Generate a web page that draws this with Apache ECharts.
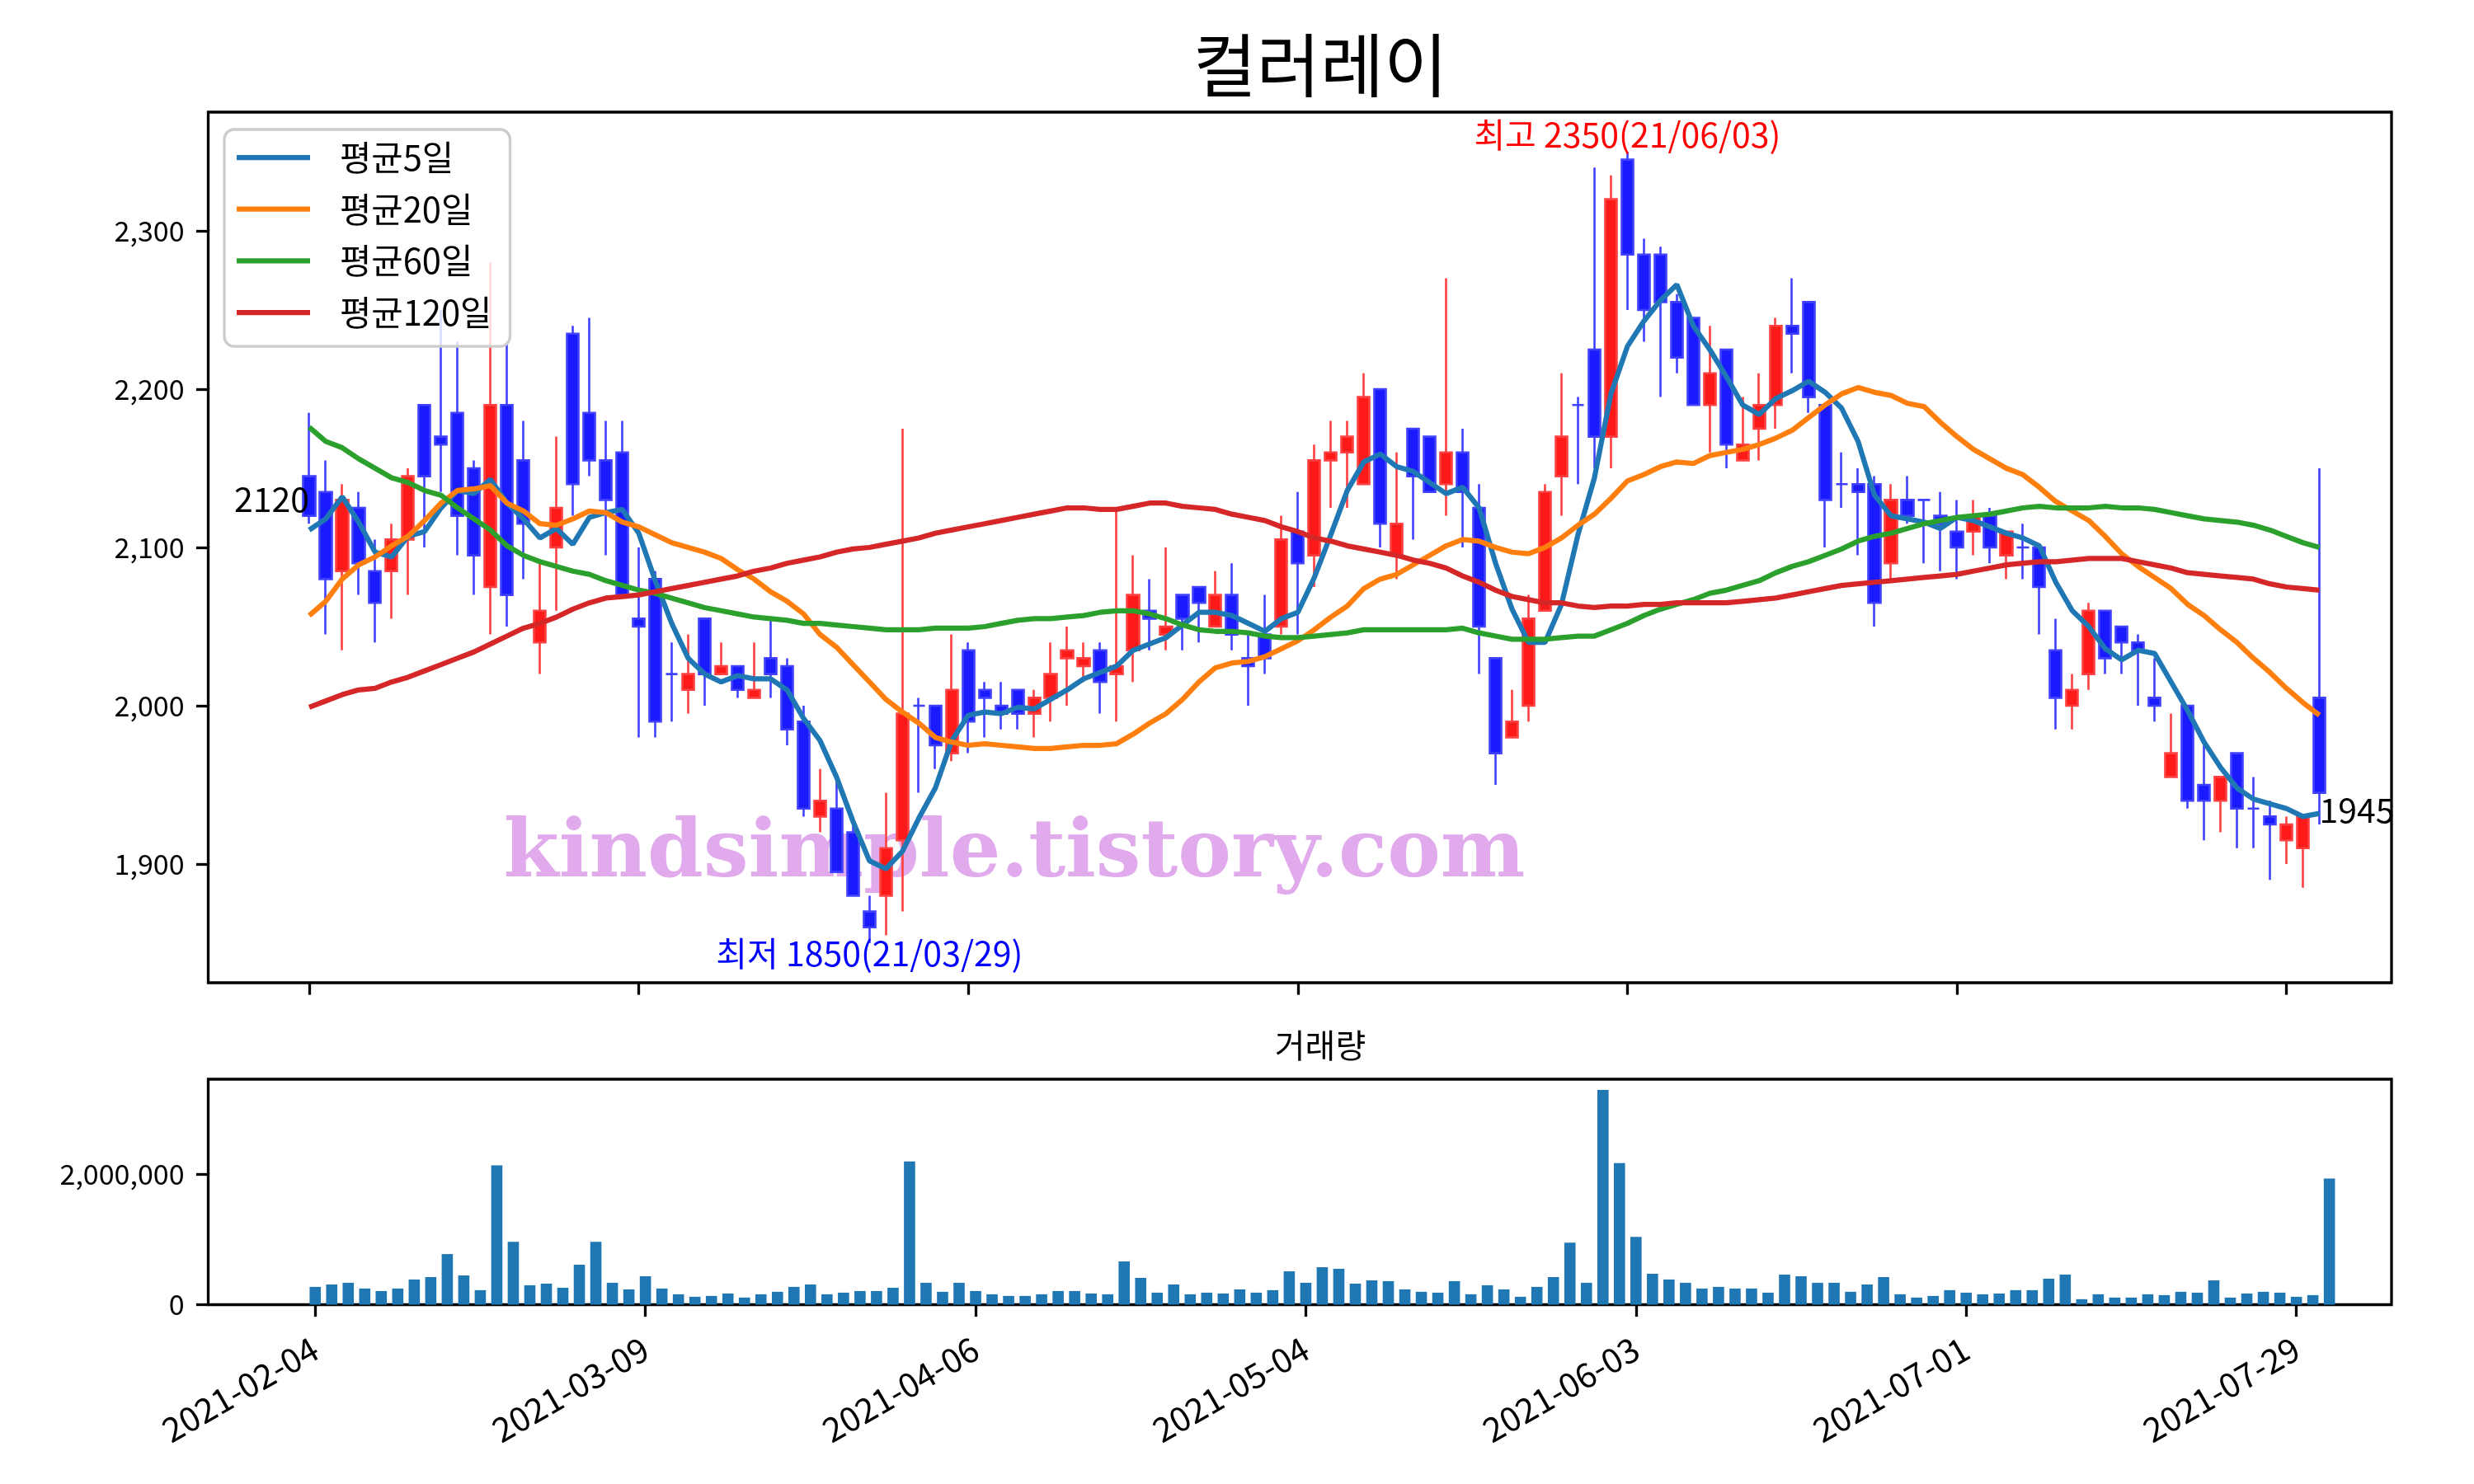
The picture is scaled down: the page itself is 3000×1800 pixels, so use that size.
<!DOCTYPE html>
<html><head><meta charset="utf-8">
<script src="https://cdn.jsdelivr.net/npm/echarts@6/dist/echarts.min.js"></script>
<style>html,body{margin:0;padding:0;background:#fff}#c{width:3000px;height:1800px}</style>
</head><body><div id="c"></div>
<script>
const chartTitle = '컬러레이';
const volumeTitle = '거래량';
const maNames = ['평균5일','평균20일','평균60일','평균120일'];
const dates = ['2021-02-04','2021-02-05','2021-02-08','2021-02-09','2021-02-10','2021-02-15','2021-02-16','2021-02-17','2021-02-18','2021-02-19','2021-02-22','2021-02-23','2021-02-24','2021-02-25','2021-02-26',
'2021-03-02','2021-03-03','2021-03-04','2021-03-05','2021-03-08','2021-03-09','2021-03-10','2021-03-11','2021-03-12','2021-03-15','2021-03-16','2021-03-17','2021-03-18','2021-03-19','2021-03-22','2021-03-23','2021-03-24','2021-03-25','2021-03-26','2021-03-29','2021-03-30','2021-03-31',
'2021-04-01','2021-04-02','2021-04-05','2021-04-06','2021-04-07','2021-04-08','2021-04-09','2021-04-12','2021-04-13','2021-04-14','2021-04-15','2021-04-16','2021-04-19','2021-04-20','2021-04-21','2021-04-22','2021-04-23','2021-04-26','2021-04-27','2021-04-28','2021-04-29','2021-04-30',
'2021-05-03','2021-05-04','2021-05-06','2021-05-07','2021-05-10','2021-05-11','2021-05-12','2021-05-13','2021-05-14','2021-05-17','2021-05-18','2021-05-20','2021-05-21','2021-05-24','2021-05-25','2021-05-26','2021-05-27','2021-05-28','2021-05-31',
'2021-06-01','2021-06-02','2021-06-03','2021-06-04','2021-06-07','2021-06-08','2021-06-09','2021-06-10','2021-06-11','2021-06-14','2021-06-15','2021-06-16','2021-06-17','2021-06-18','2021-06-21','2021-06-22','2021-06-23','2021-06-24','2021-06-25','2021-06-28','2021-06-29','2021-06-30',
'2021-07-01','2021-07-02','2021-07-05','2021-07-06','2021-07-07','2021-07-08','2021-07-09','2021-07-12','2021-07-13','2021-07-14','2021-07-15','2021-07-16','2021-07-19','2021-07-20','2021-07-21','2021-07-22','2021-07-23','2021-07-26','2021-07-27','2021-07-28','2021-07-29','2021-07-30',
'2021-08-02'];
const opens = [2145,2135,2085,2125,2085,2085,2105,2190,2170,2185,
 2150,2075,2190,2155,2040,2100,2235,2185,2155,2160,
 2055,2080,2020,2010,2055,2020,2025,2005,2030,2025,
 1990,1930,1935,1920,1870,1880,1915,2000,2000,1970,
 2035,2010,2000,2010,1995,2005,2030,2025,2035,2020,
 2035,2060,2045,2070,2075,2050,2070,2030,2045,2050,
 2110,2095,2155,2160,2140,2200,2095,2175,2170,2140,
 2160,2125,2030,1980,2000,2060,2145,2190,2225,2170,
 2345,2285,2285,2255,2245,2190,2225,2155,2175,2190,
 2240,2255,2190,2140,2140,2140,2090,2130,2130,2120,
 2110,2110,2120,2095,2100,2100,2035,2000,2020,2060,
 2050,2040,2005,1955,2000,1950,1940,1970,1935,1930,
 1915,1910,2005];
const closes = [2120,2080,2130,2090,2065,2105,2145,2145,2165,2120,
 2095,2190,2070,2115,2060,2125,2140,2155,2130,2070,
 2050,1990,2020,2020,2020,2025,2010,2010,2020,1985,
 1935,1940,1895,1880,1860,1910,1995,2000,1975,2010,
 1990,2005,1995,1995,2005,2020,2035,2030,2015,2025,
 2070,2055,2050,2055,2065,2070,2045,2025,2030,2105,
 2090,2155,2160,2170,2195,2115,2115,2145,2135,2160,
 2135,2050,1970,1990,2055,2135,2170,2190,2170,2320,
 2285,2250,2255,2220,2190,2210,2165,2165,2190,2240,
 2235,2195,2130,2140,2135,2065,2130,2120,2130,2115,
 2100,2120,2100,2110,2100,2075,2005,2010,2060,2030,
 2040,2035,2000,1970,1940,1940,1955,1935,1935,1925,
 1925,1930,1945];
const lows = [2115,2045,2035,2070,2040,2055,2070,2100,2135,2095,
 2070,2045,2050,2080,2020,2060,2120,2145,2095,2070,
 1980,1980,1990,1995,2000,2020,2005,2005,2005,1975,
 1930,1920,1895,1880,1850,1855,1870,1945,1960,1965,
 1970,1980,1985,1985,1980,1990,2000,2015,1995,1990,
 2015,2035,2035,2035,2040,2050,2035,2000,2020,2045,
 2045,2075,2125,2125,2140,2100,2080,2105,2135,2120,
 2100,2020,1950,1980,1990,2060,2120,2140,2150,2150,
 2250,2230,2195,2210,2190,2160,2150,2155,2155,2175,
 2210,2185,2100,2125,2095,2050,2080,2115,2090,2085,
 2080,2095,2090,2080,2080,2045,1985,1985,2010,2020,
 2020,2000,1990,1955,1935,1915,1920,1910,1910,1890,
 1900,1885,1925];
const highs = [2185,2155,2140,2135,2105,2115,2150,2190,2250,2230,
 2155,2280,2230,2180,2090,2170,2240,2245,2180,2180,
 2100,2085,2040,2045,2055,2040,2025,2040,2055,2030,
 2000,1960,1955,1925,1880,1945,2175,2005,2000,2045,
 2040,2015,2015,2010,2010,2040,2050,2040,2040,2125,
 2095,2080,2100,2070,2075,2085,2090,2045,2070,2120,
 2135,2165,2180,2180,2210,2200,2160,2175,2170,2270,
 2175,2140,2030,2010,2070,2140,2210,2195,2340,2335,
 2350,2295,2290,2260,2245,2240,2225,2195,2210,2245,
 2270,2255,2190,2160,2150,2145,2140,2145,2130,2135,
 2130,2130,2125,2110,2115,2100,2055,2020,2065,2060,
 2050,2045,2030,1995,2000,1975,1955,1970,1955,1940,
 1930,1930,2150];
const volumes = [272000,309000,335000,247000,209000,247000,385000,422000,774000,447000,
 222000,2129000,962000,297000,322000,259000,611000,962000,335000,234000,
 435000,247000,159000,121000,134000,171000,109000,159000,197000,272000,
 309000,159000,184000,209000,209000,259000,2191000,335000,197000,335000,
 209000,159000,134000,134000,159000,209000,209000,171000,159000,661000,
 410000,184000,309000,159000,184000,171000,234000,184000,222000,510000,
 335000,573000,548000,322000,372000,360000,234000,197000,184000,360000,
 159000,297000,234000,121000,272000,422000,949000,335000,3283000,2166000,
 1037000,473000,385000,335000,247000,272000,247000,247000,184000,460000,
 435000,335000,335000,197000,309000,422000,159000,109000,134000,222000,
 184000,159000,171000,222000,222000,397000,460000,84000,159000,109000,
 109000,159000,146000,197000,184000,372000,109000,171000,197000,184000,
 121000,146000,1928000];
const ma5 = [2111,2118,2132,2116,2097,2094,2107,2110,2125,2136,
 2134,2143,2128,2118,2106,2112,2102,2119,2122,2124,
 2109,2079,2052,2030,2020,2015,2019,2017,2017,2010,
 1992,1978,1955,1927,1902,1897,1908,1929,1948,1978,
 1994,1996,1995,1999,1998,2004,2010,2017,2021,2025,
 2035,2039,2043,2051,2059,2059,2057,2052,2047,2055,
 2059,2081,2108,2136,2154,2159,2151,2148,2141,2134,
 2138,2125,2090,2061,2040,2040,2064,2108,2144,2197,
 2227,2243,2256,2266,2240,2225,2208,2190,2184,2194,
 2199,2205,2198,2188,2167,2133,2120,2118,2116,2112,
 2119,2117,2113,2109,2106,2101,2078,2060,2050,2036,
 2029,2035,2033,2015,1997,1977,1961,1948,1941,1938,
 1935,1930,1932];
const ma20 = [2057,2066,2080,2089,2094,2101,2107,2117,2128,2136,
 2137,2139,2128,2123,2115,2114,2118,2123,2122,2116,
 2113,2108,2103,2100,2097,2093,2086,2080,2072,2066,
 2058,2045,2037,2026,2015,2004,1996,1989,1980,1977,
 1975,1976,1975,1974,1973,1973,1974,1975,1975,1976,
 1982,1989,1995,2004,2015,2024,2027,2028,2031,2036,
 2041,2048,2056,2063,2074,2080,2083,2089,2095,2101,
 2105,2104,2100,2097,2096,2100,2106,2114,2121,2131,
 2142,2146,2151,2154,2153,2158,2160,2162,2165,2169,
 2174,2182,2190,2197,2201,2198,2196,2191,2189,2179,
 2170,2162,2156,2150,2146,2138,2129,2123,2117,2107,
 2096,2088,2081,2074,2064,2057,2048,2040,2030,2021,
 2011,2002,1994];
const ma60 = [2176,2167,2163,2156,2150,2144,2141,2136,2133,2125,
 2118,2111,2101,2095,2091,2088,2085,2083,2079,2076,
 2073,2071,2068,2065,2062,2060,2058,2056,2055,2054,
 2052,2052,2051,2050,2049,2048,2048,2048,2049,2049,
 2049,2050,2052,2054,2055,2055,2056,2057,2059,2060,
 2060,2058,2055,2051,2048,2047,2047,2046,2044,2043,
 2043,2044,2045,2046,2048,2048,2048,2048,2048,2048,
 2049,2046,2044,2042,2042,2042,2043,2044,2044,2048,
 2052,2057,2061,2064,2067,2071,2073,2076,2079,2084,
 2088,2091,2095,2099,2104,2107,2109,2112,2115,2117,
 2119,2120,2121,2123,2125,2126,2125,2125,2125,2126,
 2125,2125,2124,2122,2120,2118,2117,2116,2114,2111,
 2107,2103,2100];
const ma120 = [1999,2003,2007,2010,2011,2015,2018,2022,2026,2030,
 2034,2039,2044,2049,2052,2056,2061,2065,2068,2069,
 2070,2072,2074,2076,2078,2080,2082,2085,2087,2090,
 2092,2094,2097,2099,2100,2102,2104,2106,2109,2111,
 2113,2115,2117,2119,2121,2123,2125,2125,2124,2124,
 2126,2128,2128,2126,2125,2124,2121,2119,2117,2113,
 2110,2106,2104,2101,2099,2097,2095,2092,2090,2087,
 2082,2078,2073,2069,2067,2065,2065,2063,2062,2063,
 2063,2064,2064,2065,2065,2065,2065,2066,2067,2068,
 2070,2072,2074,2076,2077,2078,2079,2080,2081,2082,
 2083,2085,2087,2089,2090,2091,2091,2092,2093,2093,
 2093,2091,2089,2087,2084,2083,2082,2081,2080,2077,
 2075,2074,2073];
const priceTicks = [1900,2000,2100,2200,2300];
const volumeTicks = [0,2000000];
const dateTickIdx = [0,20,40,60,80,100,120];
const maColors = ['#1f77b4','#ff7f0e','#2ca02c','#d62728'];

const FONT = "'Noto Sans CJK KR','Noto Sans',sans-serif";
const chart = echarts.init(document.getElementById('c'), null, {renderer:'canvas', width:3000, height:1800});
const idx = dates.map((d, i) => i);
const candleData = idx.map(i => [i, opens[i], closes[i], lows[i], highs[i]]);
const maList = [ma5, ma20, ma60, ma120];
const fmtNum = v => Number(v).toLocaleString('en-US');

const GL = 252.5, GR = 2900;
const tickStyle = {show:true, length:14.6, inside:false, lineStyle:{color:'#000', width:3.3}};
const noLine = {show:false, onZero:false};
const option = {
  animation:false,
  backgroundColor:'#ffffff',
  grid:[
    {left:GL, top:136, width:GR-GL, height:1056, show:true, borderColor:'#000', borderWidth:3.3, backgroundColor:'rgba(0,0,0,0)', containLabel:false},
    {left:GL, top:1309, width:GR-GL, height:273.5, show:true, borderColor:'#000', borderWidth:3.3, backgroundColor:'rgba(0,0,0,0)', containLabel:false}
  ],
  xAxis:[
    {type:'value', gridIndex:0, position:'bottom', min:-6.13, max:(GR-375)/19.98, axisLine:noLine, splitLine:{show:false},
     axisTick:Object.assign({customValues:dateTickIdx}, tickStyle), axisLabel:{show:false, customValues:dateTickIdx}},
    {type:'value', gridIndex:1, position:'bottom', min:-6.48, max:(GR-382.2)/20.02, axisLine:noLine, splitLine:{show:false},
     axisTick:Object.assign({customValues:dateTickIdx}, tickStyle),
     axisLabel:{show:true, customValues:dateTickIdx, formatter:v => dates[Math.round(v)] || '', rotate:30, margin:50,
       fontSize:41, fontFamily:FONT, color:'#000'}}
  ],
  yAxis:[
    {type:'value', gridIndex:0, position:'left', min:1825, max:2375, axisLine:noLine, splitLine:{show:false},
     axisTick:Object.assign({customValues:priceTicks}, tickStyle),
     axisLabel:{show:true, customValues:priceTicks, formatter:fmtNum, margin:29, fontSize:34, fontFamily:FONT, color:'#000'}},
    {type:'value', gridIndex:1, position:'left', min:0, max:3447000, axisLine:noLine, splitLine:{show:false},
     axisTick:Object.assign({customValues:volumeTicks}, tickStyle),
     axisLabel:{show:true, customValues:volumeTicks, formatter:fmtNum, margin:29, fontSize:34, fontFamily:FONT, color:'#000'}}
  ],
  legend:{
    data:maNames, orient:'vertical', left:272, top:157, icon:'rect', itemWidth:89, itemHeight:6.25, itemGap:12.7,
    padding:[9,22,16,15], borderColor:'#cccccc', borderWidth:3.3, borderRadius:12, backgroundColor:'rgba(255,255,255,0.8)',
    selectedMode:false, textStyle:{fontFamily:FONT, fontSize:41.7, color:'#000', lineHeight:50, padding:[0,0,0,31]}
  },
  series:[
    {type:'candlestick', name:'price', xAxisIndex:0, yAxisIndex:0, z:2, barWidth:14.7,
     dimensions:['i','open','close','lowest','highest'], encode:{x:0, y:[1,2,3,4]},
     data:candleData,
     itemStyle:{color:'#ff1a1a', color0:'#1a1aff', borderColor:'#ff4040', borderColor0:'#4040ff', borderColorDoji:'#4040ff', borderWidth:2.6}},
    ...maList.map((arr, k) => ({type:'line', name:maNames[k], xAxisIndex:0, yAxisIndex:0, z:4, showSymbol:false, symbol:'none',
      data:arr.map((v, i) => [i, v]), lineStyle:{color:maColors[k], width:6.25}, itemStyle:{color:maColors[k]}})),
    {type:'bar', name:'vol', xAxisIndex:1, yAxisIndex:1, barWidth:13.6, data:volumes.map((v, i) => [i, v]), itemStyle:{color:'#1f77b4'}}
  ]
};
chart.setOption(option);

const px = (i, v) => chart.convertToPixel({xAxisIndex:0, yAxisIndex:0}, [i, v]);
let maxI = 0, minI = 0;
highs.forEach((v, i) => { if (v > highs[maxI]) maxI = i; });
lows.forEach((v, i) => { if (v < lows[minI]) minI = i; });
const shortDate = d => d.slice(2).replace(/-/g, '/');
const last = closes.length - 1;
const pMax = px(maxI, highs[maxI]);
const pMin = px(minI, lows[minI]);
const pFirst = px(0, closes[0]);
const pLast = px(last, closes[last]);
const txt = (x, y, text, size, color, align, valign, extra) => Object.assign({type:'text', x:x, y:y, z:10,
  style:Object.assign({text:text, fontSize:size, fontFamily:FONT, fill:color, align:align, textAlign:align, verticalAlign:valign, textVerticalAlign:valign}, extra || {})});
chart.setOption({graphic:[
  txt(1601, 79, chartTitle, 84, '#000', 'center', 'middle'),
  txt(1601, 1268, volumeTitle, 40, '#000', 'center', 'middle'),
  {type:'text', x:1230, y:1038, z:0, zlevel:0, silent:true, style:{text:'kindsimple.tistory.com', fontSize:97, fontWeight:'bold', fontFamily:"'DejaVu Serif',serif",
    fill:'#e1aaed', align:'center', textAlign:'center', verticalAlign:'middle', textVerticalAlign:'middle'}},
  txt(pMax[0], pMax[1], '최고 ' + highs[maxI] + '(' + shortDate(dates[maxI]) + ')', 41, '#ff0000', 'center', 'bottom'),
  txt(pMin[0], pMin[1] - 8, '최저 ' + lows[minI] + '(' + shortDate(dates[minI]) + ')', 41, '#0000ff', 'center', 'top'),
  txt(pFirst[0], pFirst[1], String(closes[0]), 41, '#000', 'right', 'bottom'),
  txt(pLast[0], pLast[1], String(closes[last]), 41, '#000', 'left', 'top')
]});
</script>
</body></html>
